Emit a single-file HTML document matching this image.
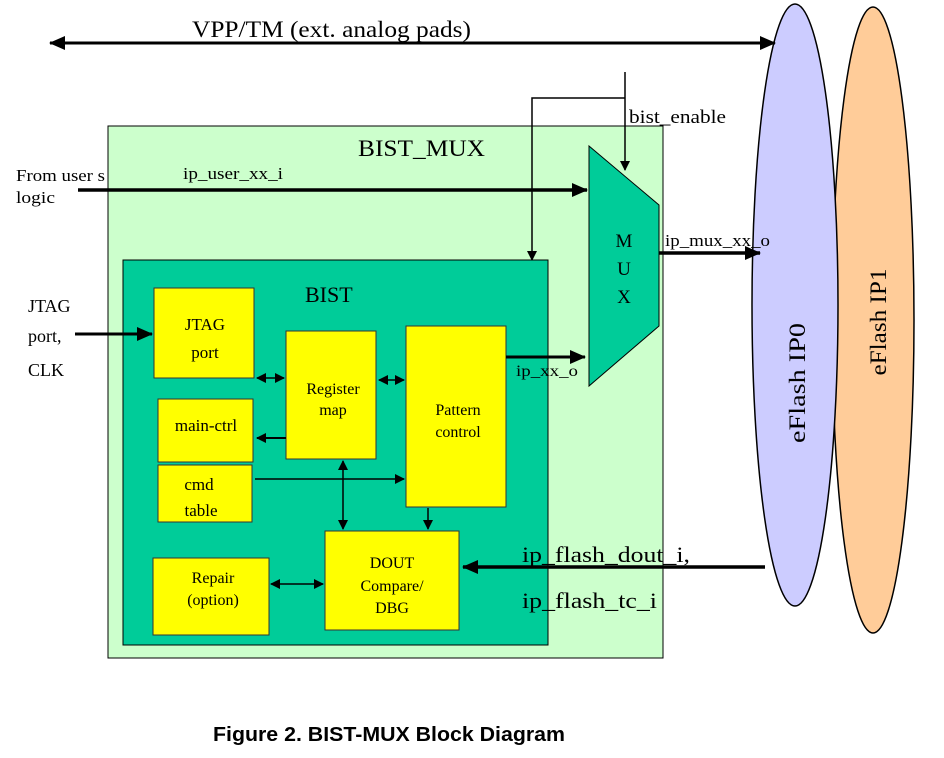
<!DOCTYPE html>
<html><head><style>body{margin:0;background:#fff}svg{display:block}</style></head><body>
<svg width="944" height="758" xmlns="http://www.w3.org/2000/svg" font-family="Liberation Serif, serif">
<defs>
<marker id="a" markerWidth="10" markerHeight="10" refX="9" refY="5" orient="auto" markerUnits="userSpaceOnUse"><path d="M0,0 L10,5 L0,10 z" fill="#000"/></marker>
<marker id="b" markerWidth="16" markerHeight="14" refX="15" refY="7" orient="auto" markerUnits="userSpaceOnUse"><path d="M0,0 L16,7 L0,14 z" fill="#000"/></marker>
<marker id="bs" markerWidth="16" markerHeight="14" refX="1" refY="7" orient="auto" markerUnits="userSpaceOnUse"><path d="M16,0 L0,7 L16,14 z" fill="#000"/></marker>
<marker id="as" markerWidth="10" markerHeight="10" refX="1" refY="5" orient="auto" markerUnits="userSpaceOnUse"><path d="M10,0 L0,5 L10,10 z" fill="#000"/></marker>
</defs>
<ellipse cx="873" cy="320" rx="41" ry="313" fill="#ffcc99" stroke="#000" stroke-width="1.5"/>
<ellipse cx="795" cy="305" rx="43" ry="301" fill="#ccccff" stroke="#000" stroke-width="1.5"/>
<text transform="translate(886,322) rotate(-90)" font-size="23" text-anchor="middle" textLength="107" lengthAdjust="spacingAndGlyphs">eFlash IP1</text>
<text transform="translate(805,383) rotate(-90)" font-size="23" text-anchor="middle" textLength="120" lengthAdjust="spacingAndGlyphs">eFlash IP0</text>
<line x1="50" y1="43" x2="775" y2="43" stroke="#000" stroke-width="3" marker-start="url(#bs)" marker-end="url(#b)"/>
<text x="192" y="37" font-size="23" textLength="279" lengthAdjust="spacingAndGlyphs">VPP/TM (ext. analog pads)</text>
<rect x="108" y="126" width="555" height="532" fill="#ccffcc" stroke="#000"/>
<text x="358" y="156" font-size="23" textLength="127" lengthAdjust="spacingAndGlyphs">BIST_MUX</text>
<polygon points="589,146 659,205 659,326 589,386" fill="#00cc99" stroke="#000"/>
<text x="624" y="247" font-size="19" text-anchor="middle">M</text>
<text x="624" y="275" font-size="19" text-anchor="middle">U</text>
<text x="624" y="303" font-size="19" text-anchor="middle">X</text>
<polyline points="625,72 625,170" fill="none" stroke="#000" stroke-width="1.5" marker-end="url(#a)"/>
<polyline points="625,98 532,98 532,260" fill="none" stroke="#000" stroke-width="1.5" marker-end="url(#a)"/>
<text x="629" y="123" font-size="19" textLength="97" lengthAdjust="spacingAndGlyphs">bist_enable</text>
<text x="16" y="181" font-size="17" textLength="89" lengthAdjust="spacingAndGlyphs">From user s</text>
<text x="16" y="203" font-size="17" textLength="39" lengthAdjust="spacingAndGlyphs">logic</text>
<text x="183" y="179" font-size="17" textLength="100" lengthAdjust="spacingAndGlyphs">ip_user_xx_i</text>
<line x1="78" y1="190" x2="587" y2="190" stroke="#000" stroke-width="3.5" marker-end="url(#b)"/>
<line x1="659" y1="253" x2="760" y2="253" stroke="#000" stroke-width="3.5" marker-end="url(#b)"/>
<text x="665" y="246" font-size="17" textLength="105" lengthAdjust="spacingAndGlyphs">ip_mux_xx_o</text>
<rect x="123" y="260" width="425" height="385" fill="#00cc99" stroke="#000"/>
<text x="305" y="302" font-size="22">BIST</text>
<text x="28" y="312" font-size="18">JTAG</text>
<text x="28" y="342" font-size="18">port,</text>
<text x="28" y="376" font-size="18">CLK</text>
<line x1="75" y1="334" x2="152" y2="334" stroke="#000" stroke-width="3" marker-end="url(#b)"/>
<g fill="#ffff00" stroke="#333">
<rect x="154" y="288" width="100" height="90"/>
<rect x="286" y="331" width="90" height="128"/>
<rect x="406" y="326" width="100" height="181"/>
<rect x="158" y="399" width="95" height="63"/>
<rect x="158" y="465" width="94" height="57"/>
<rect x="153" y="558" width="116" height="77"/>
<rect x="325" y="531" width="134" height="99"/>
</g>
<g font-size="17" text-anchor="middle">
<text x="205" y="330">JTAG</text><text x="205" y="358">port</text>
<text x="333" y="394" font-size="16">Register</text><text x="333" y="415" font-size="16">map</text>
<text x="458" y="415" font-size="16">Pattern</text><text x="458" y="437" font-size="16">control</text>
<text x="206" y="431">main-ctrl</text>
<text x="199" y="490">cmd</text><text x="201" y="516">table</text>
<text x="213" y="583" font-size="16">Repair</text><text x="213" y="605" font-size="16">(option)</text>
<text x="392" y="568" font-size="16">DOUT</text><text x="392" y="591" font-size="16">Compare/</text><text x="392" y="613" font-size="16">DBG</text>
</g>
<g stroke="#000" stroke-width="1.5" fill="none">
<line x1="257" y1="378" x2="284" y2="378" marker-start="url(#as)" marker-end="url(#a)"/>
<line x1="379" y1="380" x2="404" y2="380" marker-start="url(#as)" marker-end="url(#a)"/>
<line x1="286" y1="438" x2="257" y2="438" marker-end="url(#a)" stroke-width="2"/>
<line x1="255" y1="479" x2="404" y2="479" marker-end="url(#a)"/>
<line x1="343" y1="461" x2="343" y2="529" marker-start="url(#as)" marker-end="url(#a)"/>
<line x1="428" y1="508" x2="428" y2="529" marker-end="url(#a)"/>
<line x1="271" y1="584" x2="323" y2="584" marker-start="url(#as)" marker-end="url(#a)"/>
</g>
<line x1="506" y1="357" x2="585" y2="357" stroke="#000" stroke-width="3" marker-end="url(#b)"/>
<text x="516" y="376" font-size="16" textLength="62" lengthAdjust="spacingAndGlyphs">ip_xx_o</text>
<line x1="765" y1="567" x2="463" y2="567" stroke="#000" stroke-width="3.5" marker-end="url(#b)"/>
<text x="522" y="562" font-size="22" textLength="168" lengthAdjust="spacingAndGlyphs">ip_flash_dout_i,</text>
<text x="522" y="608" font-size="22" textLength="135" lengthAdjust="spacingAndGlyphs">ip_flash_tc_i</text>
<text x="213" y="741" font-family="Liberation Sans, sans-serif" font-weight="bold" font-size="20" textLength="352" lengthAdjust="spacingAndGlyphs">Figure 2. BIST-MUX Block Diagram</text>
</svg>
</body></html>
